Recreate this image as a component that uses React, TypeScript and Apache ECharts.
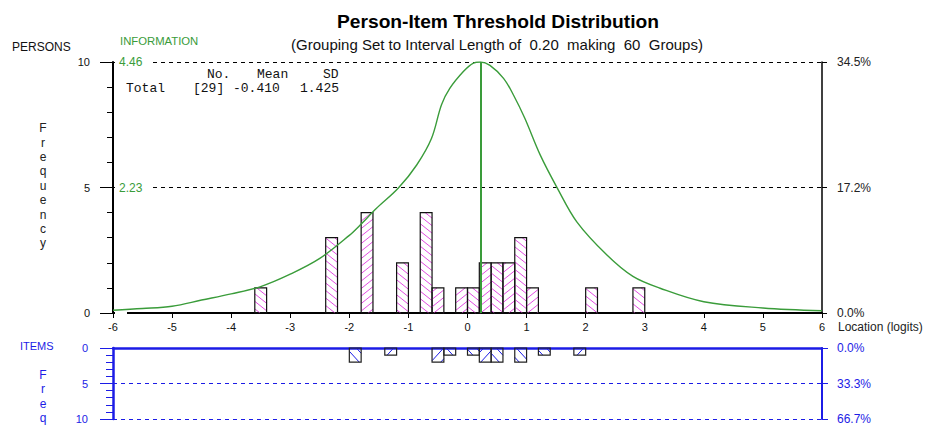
import React, { useEffect, useRef } from "react";
import * as echarts from "echarts";

// ---------- data ----------
const BIN = 0.2;
const X_MIN = -6;
const X_MAX = 6;
const personBinStarts = [-3.6, -2.4, -1.8, -1.2, -0.8, -0.6, -0.2, 0.0, 0.2, 0.4, 0.6, 0.8, 1.0, 2.0, 2.8];
const personCounts = [1, 3, 4, 2, 4, 1, 1, 1, 2, 2, 2, 3, 1, 1, 1];
const itemBinStarts = [-2.0, -1.4, -0.6, -0.4, 0.0, 0.2, 0.4, 0.8, 1.2, 1.8];
const itemCounts = [2, 1, 2, 1, 1, 2, 2, 2, 1, 1];
const personTotal = 29;
const itemTotal = 15;
const infoLocations = [-6, -5.5, -5, -4.5, -4, -3.5, -3, -2.5, -2, -1.82, -1.54, -1.17, -0.86, -0.61, -0.44, -0.3, -0.07, 0.1, 0.22, 0.38, 0.61, 0.78, 0.97, 1.23, 1.52, 1.85, 2.36, 2.8, 3.26, 4, 5, 6];
const infoValues = [0.05, 0.08, 0.12, 0.23, 0.34, 0.47, 0.69, 0.97, 1.38, 1.56, 1.86, 2.22, 2.63, 3.1, 3.7, 3.99, 4.29, 4.44, 4.46, 4.4, 4.17, 3.87, 3.46, 2.81, 2.22, 1.62, 1.03, 0.65, 0.44, 0.2, 0.09, 0.04];
const peakLocation = 0.22;
const peakInfo = 4.46;
const statsHeader = ["No.", "Mean", "SD"];
const statsRow = ["Total", "[29]", "-0.410", "1.425"];
const titleText = "Person-Item Threshold Distribution";
const subtitleText = "(Grouping Set to Interval Length of\u00a0 0.20\u00a0 making\u00a0 60\u00a0 Groups)";

// ---------- styles ----------
const SANS = "'Liberation Sans', Arial, sans-serif";
const MONO = "'Liberation Mono', 'Courier New', monospace";
const GREEN = "#3a9c3a";
const BLUE = "#1c1ce6";
const MAGENTA = "#e24ce2";

function hatchLines(x: number, y: number, w: number, h: number, dir: number, k: number, sp: number, color: string, lw: number) {
  const segs: any[] = [];
  const s = dir * k;
  const cs = [y - s * x, y - s * (x + w), y + h - s * x, y + h - s * (x + w)];
  const cmin = Math.min(...cs);
  const cmax = Math.max(...cs);
  for (let c = Math.ceil(cmin / sp) * sp; c <= cmax; c += sp) {
    const xa = (y - c) / s;
    const xb = (y + h - c) / s;
    const lo = Math.max(Math.min(xa, xb), x);
    const hi = Math.min(Math.max(xa, xb), x + w);
    if (hi - lo > 0.4) {
      segs.push({
        type: "line",
        shape: { x1: lo, y1: s * lo + c, x2: hi, y2: s * hi + c },
        style: { stroke: color, lineWidth: lw },
      });
    }
  }
  return segs;
}

function makeRender(hatchColor: string, borderColor: string, k: number, sp: number) {
  return (params: any, api: any) => {
    const start = api.value(0);
    const count = api.value(1);
    const a = api.coord([start, 0]);
    const b = api.coord([start + BIN, count]);
    const x = Math.min(a[0], b[0]);
    const w = Math.abs(b[0] - a[0]);
    const y = Math.min(a[1], b[1]);
    const h = Math.abs(b[1] - a[1]);
    const idx = Math.round((start - X_MIN) / BIN);
    const dir = idx % 2 === 0 ? 1 : -1;
    const children: any[] = hatchLines(x, y, w, h, dir, k, sp, hatchColor, 1);
    children.push({
      type: "rect",
      shape: { x, y, width: w, height: h },
      style: { fill: "none", stroke: borderColor, lineWidth: 1.2 },
    });
    return { type: "group", children };
  };
}

function txt(text: string, x: number, y: number, opts: any = {}) {
  return {
    type: "text",
    x,
    y,
    z: 50,
    style: {
      text,
      fill: opts.fill || "#111",
      fontSize: opts.fontSize || 12,
      fontFamily: opts.fontFamily || SANS,
      fontWeight: opts.fontWeight || "normal",
      align: opts.align || "left",
      textAlign: opts.align || "left",
      verticalAlign: opts.va || "middle",
      textVerticalAlign: opts.va || "middle",
      lineHeight: opts.lineHeight,
    },
  };
}

export default function App() {
  const ref = useRef<HTMLDivElement>(null);
  useEffect(() => {
    if (!ref.current) return;
    const chart = echarts.init(ref.current, undefined, { renderer: "svg" });
    const option: any = {
      animation: false,
      grid: [
        { left: 113, right: 108, top: 62, height: 251 },
        { left: 113, right: 108, top: 348, height: 71 },
      ],
      xAxis: [
        {
          gridIndex: 0,
          type: "value",
          min: X_MIN,
          max: X_MAX,
          interval: 1,
          position: "bottom",
          axisLine: { onZero: false, lineStyle: { color: "#000", width: 2 } },
          axisTick: { show: true, length: 5, lineStyle: { color: "#000", width: 1 } },
          axisLabel: { color: "#111", fontSize: 11, fontFamily: SANS, margin: 8 },
          splitLine: { show: false },
        },
        {
          gridIndex: 1,
          type: "value",
          min: X_MIN,
          max: X_MAX,
          interval: 1,
          position: "top",
          axisLine: { onZero: false, lineStyle: { color: BLUE, width: 2.5 } },
          axisTick: { show: false },
          axisLabel: { show: false },
          splitLine: { show: false },
        },
      ],
      yAxis: [
        {
          gridIndex: 0,
          type: "value",
          min: 0,
          max: 10,
          interval: 5,
          position: "left",
          axisLine: { show: true, onZero: false, lineStyle: { color: "#000", width: 2 } },
          axisTick: { show: true, length: 13, lineStyle: { color: "#000", width: 1 } },
          minorTick: { show: true, splitNumber: 5, length: 6, lineStyle: { color: "#000", width: 1 } },
          axisLabel: { color: "#111", fontSize: 11, fontFamily: SANS, margin: 23 },
          splitLine: { show: true, lineStyle: { color: "#000", width: 1, type: [4, 4] } },
        },
        {
          gridIndex: 0,
          type: "value",
          min: 0,
          max: peakInfo,
          interval: peakInfo / 2,
          position: "left",
          axisLine: { show: false, onZero: false },
          axisTick: { show: false },
          splitLine: { show: false },
          axisLabel: {
            inside: true,
            margin: 2,
            color: GREEN,
            fontSize: 12,
            fontFamily: SANS,
            backgroundColor: "#fff",
            padding: [1, 8, 1, 4],
            formatter: (v: number) => (v === 0 ? "" : v.toFixed(2)),
          },
        },
        {
          gridIndex: 0,
          type: "value",
          min: 0,
          max: 10,
          interval: 5,
          position: "right",
          axisLine: { show: true, onZero: false, lineStyle: { color: "#000", width: 1.5 } },
          axisTick: { show: true, length: 5, lineStyle: { color: "#000", width: 1 } },
          axisLabel: {
            color: "#222",
            fontSize: 12,
            fontFamily: SANS,
            margin: 15,
            formatter: (v: number) => ((v / personTotal) * 100).toFixed(1) + "%",
          },
          splitLine: { show: false },
        },
        {
          gridIndex: 1,
          type: "value",
          min: 0,
          max: 10,
          interval: 5,
          inverse: true,
          position: "left",
          axisLine: { show: true, onZero: false, lineStyle: { color: BLUE, width: 2.5 } },
          axisTick: { show: true, length: 13, lineStyle: { color: BLUE, width: 1 } },
          minorTick: { show: true, splitNumber: 5, length: 7, lineStyle: { color: BLUE, width: 1 } },
          axisLabel: { color: BLUE, fontSize: 11, fontFamily: SANS, margin: 25 },
          splitLine: { show: true, lineStyle: { color: BLUE, width: 1, type: [4, 4] } },
        },
        {
          gridIndex: 1,
          type: "value",
          min: 0,
          max: 10,
          interval: 5,
          inverse: true,
          position: "right",
          axisLine: { show: true, onZero: false, lineStyle: { color: BLUE, width: 2 } },
          axisTick: { show: true, length: 6, lineStyle: { color: BLUE, width: 1 } },
          axisLabel: {
            color: BLUE,
            fontSize: 12,
            fontFamily: SANS,
            margin: 15,
            formatter: (v: number) => ((v / itemTotal) * 100).toFixed(1) + "%",
          },
          splitLine: { show: false },
        },
      ],
      series: [
        {
          type: "custom",
          name: "Persons",
          xAxisIndex: 0,
          yAxisIndex: 0,
          renderItem: makeRender(MAGENTA, "#111", 0.8, 7.5),
          encode: { x: 0, y: 1 },
          data: personBinStarts.map((s, i) => [s, personCounts[i]]),
          z: 3,
        },
        {
          type: "custom",
          name: "Items",
          xAxisIndex: 1,
          yAxisIndex: 3,
          renderItem: makeRender(BLUE, "#222", 1.1, 11),
          encode: { x: 0, y: 1 },
          data: itemBinStarts.map((s, i) => [s, itemCounts[i]]),
          z: 3,
        },
        {
          type: "line",
          name: "Information",
          xAxisIndex: 0,
          yAxisIndex: 1,
          data: infoLocations.map((x, i) => [x, infoValues[i]]),
          showSymbol: false,
          symbol: "none",
          smooth: 0.35,
          lineStyle: { color: GREEN, width: 1.4 },
          z: 4,
          markLine: {
            silent: true,
            symbol: ["none", "none"],
            label: { show: false },
            lineStyle: { color: GREEN, width: 2, type: "solid" },
            data: [{ xAxis: peakLocation }],
          },
        },
      ],
      graphic: [
        txt(titleText, 498, 21, { fontSize: 19.2, fontWeight: "bold", align: "center", fill: "#000" }),
        txt(subtitleText, 497, 44, { fontSize: 15, align: "center", fill: "#111" }),
        txt("PERSONS", 12, 47, { fontSize: 12, fill: "#111" }),
        txt("INFORMATION", 120, 41, { fontSize: 11.3, fill: GREEN }),
        txt("F\nr\ne\nq\nu\ne\nn\nc\ny", 43, 121, { fontSize: 12, align: "center", va: "top", lineHeight: 14.4, fill: "#222" }),
        txt(statsHeader[0], 207, 74.5, { fontSize: 13, fontFamily: MONO }),
        txt(statsHeader[1], 257, 74.5, { fontSize: 13, fontFamily: MONO }),
        txt(statsHeader[2], 323, 74.5, { fontSize: 13, fontFamily: MONO }),
        txt(statsRow[0], 126, 88.5, { fontSize: 13, fontFamily: MONO }),
        txt(statsRow[1], 193, 88.5, { fontSize: 13, fontFamily: MONO }),
        txt(statsRow[2], 233, 88.5, { fontSize: 13, fontFamily: MONO }),
        txt(statsRow[3], 300, 88.5, { fontSize: 13, fontFamily: MONO }),
        txt("Location (logits)", 838, 327, { fontSize: 12, fill: "#222" }),
        txt("ITEMS", 20, 346, { fontSize: 11, fill: BLUE }),
        txt("F\nr\ne\nq", 43, 368, { fontSize: 12, align: "center", va: "top", lineHeight: 14.3, fill: BLUE }),
      ],
    };
    chart.setOption(option);
    return () => chart.dispose();
  }, []);
  return (
    <div
      ref={ref}
      style={{ position: "absolute", left: 0, top: 0, width: 930, height: 429, background: "#fff" }}
    />
  );
}
